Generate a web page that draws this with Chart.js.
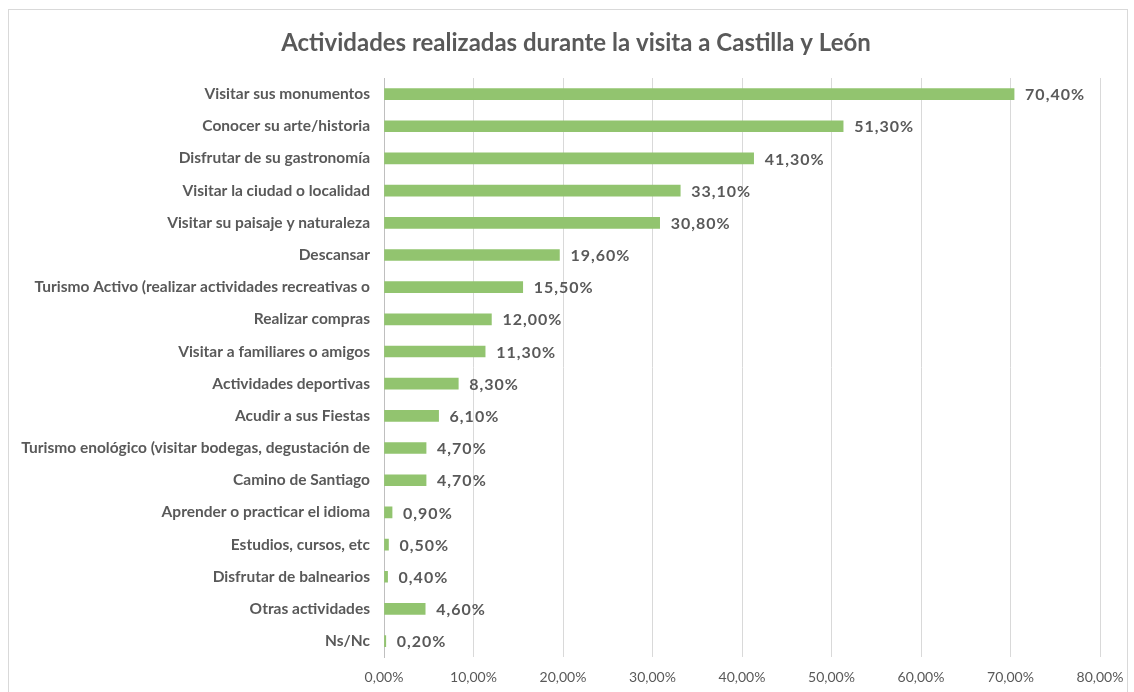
<!DOCTYPE html>
<html><head><meta charset="utf-8">
<script src="https://cdn.jsdelivr.net/npm/chart.js@4/dist/chart.umd.min.js"></script>
<style>
html,body{margin:0;padding:0;background:#fff;overflow:hidden;}
#wrap{position:absolute;left:8px;top:9px;width:1120px;height:690px;border:1px solid #d9d9d9;box-sizing:border-box;background:#fff;}
canvas{display:block;}
</style></head>
<body>
<div id="wrap"><canvas id="c"></canvas></div>
<script>
const categories = [
  "Visitar sus monumentos",
  "Conocer su arte/historia",
  "Disfrutar de su gastronomía",
  "Visitar la ciudad o localidad",
  "Visitar su paisaje y naturaleza",
  "Descansar",
  "Turismo Activo (realizar actividades recreativas o",
  "Realizar compras",
  "Visitar a familiares o amigos",
  "Actividades deportivas",
  "Acudir a sus Fiestas",
  "Turismo enológico (visitar bodegas, degustación de",
  "Camino de Santiago",
  "Aprender o practicar el idioma",
  "Estudios, cursos, etc",
  "Disfrutar de balnearios",
  "Otras actividades",
  "Ns/Nc"
];
const values = [70.4, 51.3, 41.3, 33.1, 30.8, 19.6, 15.5, 12.0, 11.3, 8.3, 6.1, 4.7, 4.7, 0.9, 0.5, 0.4, 4.6, 0.2];
const xTicks = [0, 10, 20, 30, 40, 50, 60, 70, 80];
const title = "Actividades realizadas durante la visita a Castilla y León";

const fmt = v => v.toFixed(2).replace('.', ',') + '%';
const FONT = "Lato, 'Open Sans', sans-serif";
const GRAY = '#595959';

const labelPlugin = {
  id: 'barLabels',
  afterDatasetsDraw(chart) {
    const ctx = chart.ctx;
    const meta = chart.getDatasetMeta(0);
    ctx.save();
    ctx.font = "bold 16px " + FONT;
    try { ctx.letterSpacing = '1px'; } catch (e) {}
    ctx.fillStyle = GRAY;
    ctx.textAlign = 'left';
    ctx.textBaseline = 'middle';
    meta.data.forEach((bar, i) => {
      ctx.fillText(fmt(values[i]), bar.x + 11, bar.y + 1);
    });
    ctx.restore();
  }
};

const titlePlugin = {
  id: 'customTitle',
  afterDraw(chart) {
    const ctx = chart.ctx;
    ctx.save();
    ctx.font = "bold 24px " + FONT;
    ctx.fillStyle = GRAY;
    ctx.textAlign = 'center';
    ctx.textBaseline = 'middle';
    ctx.fillText(title, 567, 33);
    ctx.restore();
  }
};

new Chart(document.getElementById('c'), {
  type: 'bar',
  data: {
    labels: categories,
    datasets: [{
      data: values,
      backgroundColor: '#92C46F',
      borderWidth: 0,
      barThickness: 11
    }]
  },
  options: {
    indexAxis: 'y',
    responsive: true,
    maintainAspectRatio: false,
    animation: false,
    layout: { padding: { left: 0, right: 27, top: 68, bottom: 0 } },
    plugins: {
      legend: { display: false },
      tooltip: { enabled: false },
      title: { display: false }
    },
    scales: {
      x: {
        min: 0, max: 80,
        afterBuildTicks: s => { s.ticks = xTicks.map(v => ({ value: v })); },
        afterFit: s => { s.paddingRight = 0; s.paddingLeft = 0; },
        ticks: {
          callback: v => fmt(v),
          color: GRAY,
          font: { family: FONT, size: 14 },
          padding: 12,
          maxRotation: 0
        },
        grid: { color: '#d9d9d9', drawTicks: false, lineWidth: 1 },
        border: { display: false }
      },
      y: {
        afterFit: s => { s.width = 375; },
        ticks: {
          color: GRAY,
          font: { family: FONT, size: 15.5, weight: 'bold' },
          padding: 14,
          autoSkip: false
        },
        grid: { display: false, drawTicks: false },
        border: { display: true, color: '#bfbfbf', width: 1 }
      }
    }
  },
  plugins: [labelPlugin, titlePlugin]
});
</script>
</body></html>
